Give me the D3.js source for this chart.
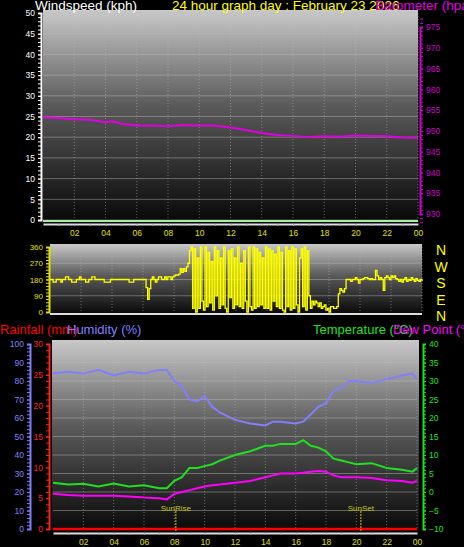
<!DOCTYPE html><html><head><script src="https://cdn.jsdelivr.net/npm/d3@7"></script>
<style>body{margin:0;background:#000}svg{display:block}text{font-family:"Liberation Sans",Arial,sans-serif}</style></head><body>
<script>
const hourTicks=["02","04","06","08","10","12","14","16","18","20","22","00"];
const pressHours=[0,1,2,3,4,4.5,5,6,7,8,9,10,11,12,13,14,15,16,17,18,19,20,21,22,23,24];
const pressure=[953.3,953.1,952.8,952.7,952.1,952.3,951.7,951.3,951.3,951.1,951.4,951.3,951.3,950.8,950.2,949.5,949.0,948.8,948.5,948.7,948.6,948.9,948.8,948.7,948.4,948.3];
const windSpeed=[0,0];
const dirValues=[180,180,165,165,180,180,180,165,180,180,195,195,180,180,165,165,165,180,180,195,180,180,180,165,165,180,180,195,195,180,180,180,180,180,180,165,165,165,165,180,180,180,180,180,180,180,180,180,180,180,180,165,165,165,180,180,180,180,180,180,180,180,135,70,130,180,195,180,165,180,195,195,180,180,195,180,195,195,180,195,200,205,205,210,240,220,240,225,250,270,340,360,20,350,0,300,20,360,60,10,360,30,330,50,280,10,360,90,340,20,300,40,360,20,0,340,80,350,20,300,40,360,30,270,20,340,60,0,360,30,10,360,20,350,30,330,40,300,20,360,20,350,10,340,60,320,30,360,20,330,10,0,360,30,340,10,360,20,350,40,0,300,350,30,360,10,340,90,20,60,40,60,50,30,50,20,30,40,10,20,0,30,30,20,20,30,100,130,120,110,130,180,180,180,170,180,180,190,180,160,180,180,185,190,190,185,180,185,180,180,230,200,180,190,180,120,190,200,190,180,200,190,200,185,180,170,180,165,180,190,170,180,175,190,180,170,185,175,170,180,170];
const bHours=[0,1,2,3,4,5,6,7,7.5,8,8.5,9,9.5,10,10.5,11,12,13,14,14.5,15,16,16.5,17,17.5,18,18.5,19,19.5,20,21,22,23,23.7,24];
const humidity=[84,85,84,86,83,85,84,86,86,80,77,70,69,72,66,63,59,57,56,58,58,57,58,62,66,68,75,76,80,80,79,81,83,84,81];
const temperature=[2.5,2,2.2,1.5,2.3,1.5,1.8,1,1,3,4,6.5,6.5,7,7.5,8.5,10,11,12.5,12.5,13,13,14,12.5,12,11,9,8.5,8,7.5,7.8,6.5,6,5.5,6.5];
const dewPoint=[-0.5,-0.8,-1,-1,-1,-1.2,-1.5,-1.7,-2,-0.5,0,0.5,1,1.5,1.8,2,2.5,3,4,4.5,5,5,5.2,5.5,5.7,5.5,4.5,4,4,4,3.8,3.2,3,2.5,3];
const rainfall=[0,0];
const compass=["N","W","S","E","N"];

const svg=d3.select("body").append("svg").attr("width",464).attr("height",547);
const defs=svg.append("defs");
const g=defs.append("linearGradient").attr("id","bg").attr("x1",0).attr("y1",0).attr("x2",0).attr("y2",1);
g.append("stop").attr("offset","0%").attr("stop-color","#c9c9c9");
g.append("stop").attr("offset","45%").attr("stop-color","#5a5a5a");
g.append("stop").attr("offset","100%").attr("stop-color","#080808");

function panel(x0,x1,y0,y1){
  svg.append("rect").attr("x",x0).attr("y",y0).attr("width",x1-x0).attr("height",y1-y0).attr("fill","url(#bg)");
}
function grid(x,y,xs,ys){
  svg.append("g").selectAll("line").data(xs).join("line").attr("x1",d=>x(d)).attr("x2",d=>x(d)).attr("y1",y.range()[1]).attr("y2",y.range()[0]).attr("stroke","#bbb").attr("stroke-opacity",0.5).attr("stroke-dasharray","1,2");
  svg.append("g").selectAll("line").data(ys).join("line").attr("y1",d=>y(d)).attr("y2",d=>y(d)).attr("x1",x.range()[0]).attr("x2",x.range()[1]).attr("stroke","#bbb").attr("stroke-opacity",0.45);
}
function yAxis(scale,x,side,ticks,minor,color,fs){
  const ax=(side==="left"?d3.axisLeft(scale):d3.axisRight(scale)).tickValues(ticks).tickSize(3).tickPadding(3);
  const a=svg.append("g").attr("transform",`translate(${x},0)`).call(ax);
  a.select(".domain").attr("stroke",color).attr("stroke-width",2);
  a.selectAll("line").attr("stroke",color);
  a.selectAll("text").attr("fill",color).attr("font-size",fs);
  const m=(side==="left"?d3.axisLeft(scale):d3.axisRight(scale)).tickValues(minor).tickSize(3).tickFormat("");
  const b=svg.append("g").attr("transform",`translate(${x},0)`).call(m);
  b.select(".domain").remove();b.selectAll("line").attr("stroke",color);
}
function xAxis(scale,y){
  const ax=d3.axisBottom(scale).tickValues(d3.range(2,25,2)).tickFormat((d,i)=>hourTicks[i]).tickSize(0).tickPadding(6);
  const a=svg.append("g").attr("transform",`translate(0,${y})`).call(ax);
  a.select(".domain").attr("stroke","#ddd").attr("stroke-width",2);
  a.selectAll("text").attr("fill","#e0e000").attr("font-size",8.5);
  const mi=svg.append("g").attr("transform",`translate(0,${y})`).call(d3.axisBottom(scale).tickValues(d3.range(1,24,1)).tickSize(2).tickFormat(""));
  mi.select(".domain").remove();mi.selectAll("line").attr("stroke","#aaa");
}
// ---- top panel
const xT=d3.scaleLinear().domain([0,24]).range([43,418]);
const yW=d3.scaleLinear().domain([0,50]).range([220,13]);
const yP=d3.scaleLinear().domain([930,975]).range([214,27]);
panel(43,418,10,222);
grid(xT,yW,d3.range(2,25,2),d3.range(0,51,5));
yAxis(yW,41,"left",d3.range(0,51,5),d3.range(0,51,1),"#fff",8.5);
yAxis(yP,420,"right",d3.range(930,976,5),d3.range(928,978,1),"#d000d0",8.5);
svg.append("line").attr("x1",xT(0)).attr("x2",xT(24)).attr("y1",yW(windSpeed[0])+1).attr("y2",yW(windSpeed[1])+1).attr("stroke","#a0f0a0").attr("stroke-width",2);
svg.append("path").datum(pressHours.map((h,i)=>[h,pressure[i]])).attr("d",d3.line().x(d=>xT(d[0])).y(d=>yP(d[1]))).attr("fill","none").attr("stroke","#e000e0").attr("stroke-width",2);
xAxis(xT,224);
svg.append("text").attr("x",35).attr("y",9.5).attr("fill","#fff").attr("font-size",13.5).text("Windspeed (kph)");
svg.append("text").attr("x",172).attr("y",9.5).attr("fill","#ffff00").attr("font-size",13.5).text("24 hour graph day : February 23 2026");
svg.append("text").attr("x",375).attr("y",9.5).attr("fill","#e000e0").attr("font-size",13.5).text("Barometer (hpa)");
// ---- direction panel
const xD=d3.scaleLinear().domain([0,24]).range([50,422]);
const yD=d3.scaleLinear().domain([0,360]).range([312,247]);
panel(50,422,244,314);
grid(xD,yD,d3.range(2,25,2),[90,180,270,360]);
yAxis(yD,49,"left",[0,90,180,270,360],d3.range(0,361,18),"#e0e000",8);
svg.append("path").datum(dirValues).attr("d",d3.line().x((d,i)=>xD(i*0.1)).y(d=>yD(d)).curve(d3.curveStepAfter)).attr("fill","none").attr("stroke","#ffff00").attr("stroke-width",1.3);
svg.append("line").attr("x1",50).attr("x2",422).attr("y1",314).attr("y2",314).attr("stroke","#ddd").attr("stroke-width",2);
svg.selectAll(".cp").data(compass).join("text").attr("x",441).attr("y",(d,i)=>255+i*16.5).attr("text-anchor","middle").attr("fill","#ffff00").attr("font-size",14).text(d=>d);
// ---- bottom panel
const xB=d3.scaleLinear().domain([0,24]).range([53,417]);
const yH=d3.scaleLinear().domain([0,100]).range([529,344]);
const yR=d3.scaleLinear().domain([0,30]).range([529,344]);
const yTm=d3.scaleLinear().domain([-10,40]).range([529,344]);
panel(52,419,340,532);
grid(xB,yH,d3.range(2,25,2),d3.range(0,101,10));
yAxis(yH,30,"left",d3.range(0,101,10),d3.range(0,101,2),"#8080ff",8.5);
yAxis(yR,49,"left",d3.range(0,31,5),d3.range(0,31,1),"#ff2020",8.5);
yAxis(yTm,423,"right",d3.range(-10,41,5),d3.range(-10,41,1),"#20e020",8.5);
const lineB=(arr,sc)=>d3.line().x((d,i)=>xB(bHours[i])).y(d=>sc(d))(arr);
[["#8080ff",humidity,yH],["#20e020",temperature,yTm],["#ff00ff",dewPoint,yTm]].forEach(([c,a,s])=>svg.append("path").attr("d",lineB(a,s)).attr("fill","none").attr("stroke",c).attr("stroke-width",2));
svg.append("line").attr("x1",xB(0)).attr("x2",xB(24)).attr("y1",yR(rainfall[0])).attr("y2",yR(rainfall[1])).attr("stroke","#ff0000").attr("stroke-width",2.5);
[["SunRise",8.1],["SunSet",20.3]].forEach(([t,h])=>{
  svg.append("line").attr("x1",xB(h)).attr("x2",xB(h)).attr("y1",511).attr("y2",531).attr("stroke","#c8c800").attr("stroke-dasharray","2,1");
  svg.append("text").attr("x",xB(h)).attr("y",511).attr("text-anchor","middle").attr("fill","#c8c800").attr("font-size",8).text(t);
});
xAxis(xB,533);
svg.append("text").attr("x",0).attr("y",334).attr("fill","#ff0000").attr("font-size",13).text("Rainfall (mm)");
svg.append("text").attr("x",67).attr("y",334).attr("fill","#8080ff").attr("font-size",13).text("Humidity (%)");
svg.append("text").attr("x",313).attr("y",334).attr("fill","#20e020").attr("font-size",13).text("Temperature (°C)");
svg.append("text").attr("x",393).attr("y",334).attr("fill","#ff00ff").attr("font-size",13).text("Dew Point (°C)");
</script></body></html>
